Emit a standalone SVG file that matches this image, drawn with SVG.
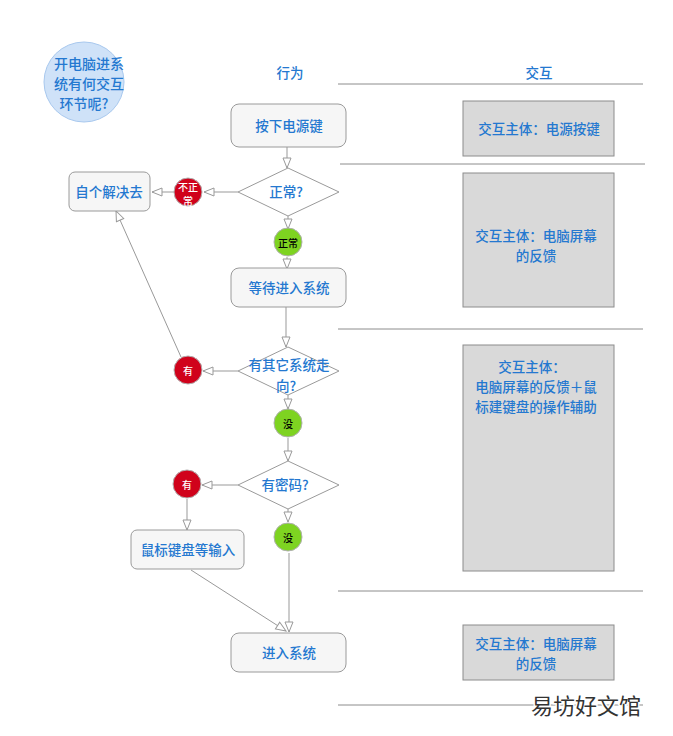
<svg xmlns="http://www.w3.org/2000/svg" width="673" height="736" viewBox="0 0 673 736">
<style>
text{font-family:"Noto Sans CJK SC","Liberation Sans",sans-serif;font-size:13.5px;font-weight:500;fill:#2478d0;text-anchor:middle;dominant-baseline:central}
.box{fill:#f6f6f6;stroke:#9a9a9a;stroke-width:1}
.dia{fill:#fff;stroke:#9a9a9a;stroke-width:1}
.panel{fill:#d9d9d9;stroke:#8c8c8c;stroke-width:1}
.sep{stroke:#8c8c8c;stroke-width:1}
.red{fill:#d0021b;stroke:#b0b0b0}
.grn{fill:#7ed321;stroke:#b0b0b0}
.w{fill:#fff;font-size:10px}
.k{fill:#000;font-size:10px}
.c{fill:none;stroke:#999;stroke-width:1;marker-end:url(#a)}
</style>
<defs>
<marker id="a" viewBox="0 0 12 10" refX="11" refY="5" markerWidth="12" markerHeight="10" markerUnits="userSpaceOnUse" orient="auto">
<path d="M1,1 L11,5 L1,9 Z" fill="#fff" stroke="#999"/>
</marker>
</defs>
<rect width="673" height="736" fill="#fff"/>
<g id="title"><circle cx="84" cy="82" r="40" fill="#cfe2f8" stroke="#a8c8ee"/>
<text x="89" y="63" style="font-size:14px">开电脑进系</text><text x="89" y="83" style="font-size:14px">统有何交互</text><text x="84" y="103" style="font-size:14px">环节呢?</text></g>
<text x="290" y="72">行为</text><text x="539" y="72">交互</text>
<g id="seps">
<line class="sep" x1="338" y1="84" x2="643" y2="84"/>
<line class="sep" x1="340" y1="164" x2="645" y2="164"/>
<line class="sep" x1="338" y1="329" x2="643" y2="329"/>
<line class="sep" x1="338" y1="591" x2="643" y2="591"/>
<line class="sep" x1="338" y1="705" x2="643" y2="705"/>
</g>
<g id="panels">
<rect class="panel" x="463" y="101" width="151" height="55"/><text x="539" y="128">交互主体：电源按键</text>
<rect class="panel" x="463" y="173" width="151" height="134"/><text x="536" y="235">交互主体：电脑屏幕</text><text x="536" y="255">的反馈</text>
<rect class="panel" x="463" y="345" width="151" height="226"/><text x="532" y="366">交互主体：</text><text x="536" y="386">电脑屏幕的反馈＋鼠</text><text x="536" y="406">标建键盘的操作辅助</text>
<rect class="panel" x="463" y="625" width="151" height="55"/><text x="536" y="643">交互主体：电脑屏幕</text><text x="536" y="663">的反馈</text>
</g>
<g id="connectors">
<line class="c" x1="287" y1="147" x2="287" y2="168"/>
<line class="c" x1="238" y1="192" x2="204" y2="192"/>
<line class="c" x1="174" y1="192" x2="152" y2="192"/>
<line class="c" x1="288" y1="216" x2="288" y2="229"/>
<line class="c" x1="287" y1="257" x2="287" y2="269"/>
<line class="c" x1="286" y1="307" x2="286" y2="347"/>
<line class="c" x1="238" y1="371" x2="203" y2="371"/>
<line class="c" x1="181" y1="357" x2="116" y2="211"/>
<line class="c" x1="288" y1="395" x2="288" y2="409"/>
<line class="c" x1="288" y1="438" x2="288" y2="461"/>
<line class="c" x1="238" y1="485" x2="202" y2="485"/>
<line class="c" x1="187" y1="499" x2="187" y2="530"/>
<line class="c" x1="288" y1="509" x2="288" y2="522"/>
<line class="c" x1="289" y1="553" x2="289" y2="632"/>
<line class="c" x1="191" y1="570" x2="286" y2="631"/>
</g>
<g id="n1"><rect class="box" x="231" y="104" width="115" height="43" rx="8"/><text x="289" y="125">按下电源键</text></g>
<g id="n2"><polygon class="dia" points="238,192 288,168 339,192 288,216"/><text x="286" y="191">正常?</text></g>
<g id="n3"><circle class="red" cx="188" cy="192" r="14"/><text class="w" x="188" y="186">不正</text><text class="w" x="188" y="200">常</text></g>
<g id="n4"><rect class="box" x="69" y="172" width="81" height="39" rx="6"/><text x="109" y="191">自个解决去</text></g>
<g id="n5"><circle class="grn" cx="288" cy="242" r="14"/><text class="k" x="288" y="242">正常</text></g>
<g id="n6"><rect class="box" x="231" y="268" width="115" height="39" rx="8"/><text x="289" y="287">等待进入系统</text></g>
<g id="n7"><polygon class="dia" points="238,371 288,347 339,371 288,395"/><text x="289" y="364">有其它系统走</text><text x="286" y="385">向?</text></g>
<g id="n8"><circle class="red" cx="188" cy="370" r="14"/><text class="w" x="188" y="370">有</text></g>
<g id="n9"><circle class="grn" cx="288" cy="423" r="14"/><text class="k" x="288" y="423">没</text></g>
<g id="n10"><polygon class="dia" points="238,485 288,461 339,485 288,509"/><text x="285" y="484">有密码?</text></g>
<g id="n11"><circle class="red" cx="187" cy="484" r="14"/><text class="w" x="187" y="484">有</text></g>
<g id="n12"><circle class="grn" cx="288" cy="537" r="14"/><text class="k" x="288" y="537">没</text></g>
<g id="n13"><rect class="box" x="131" y="530" width="113" height="39" rx="6"/><text x="188" y="549">鼠标键盘等输入</text></g>
<g id="n14"><rect class="box" x="231" y="633" width="115" height="39" rx="8"/><text x="289" y="652">进入系统</text></g>
<text x="586" y="704" style="font-size:22px;font-weight:400;fill:#333;stroke:#fff;stroke-width:3;paint-order:stroke">易坊好文馆</text>
</svg>
